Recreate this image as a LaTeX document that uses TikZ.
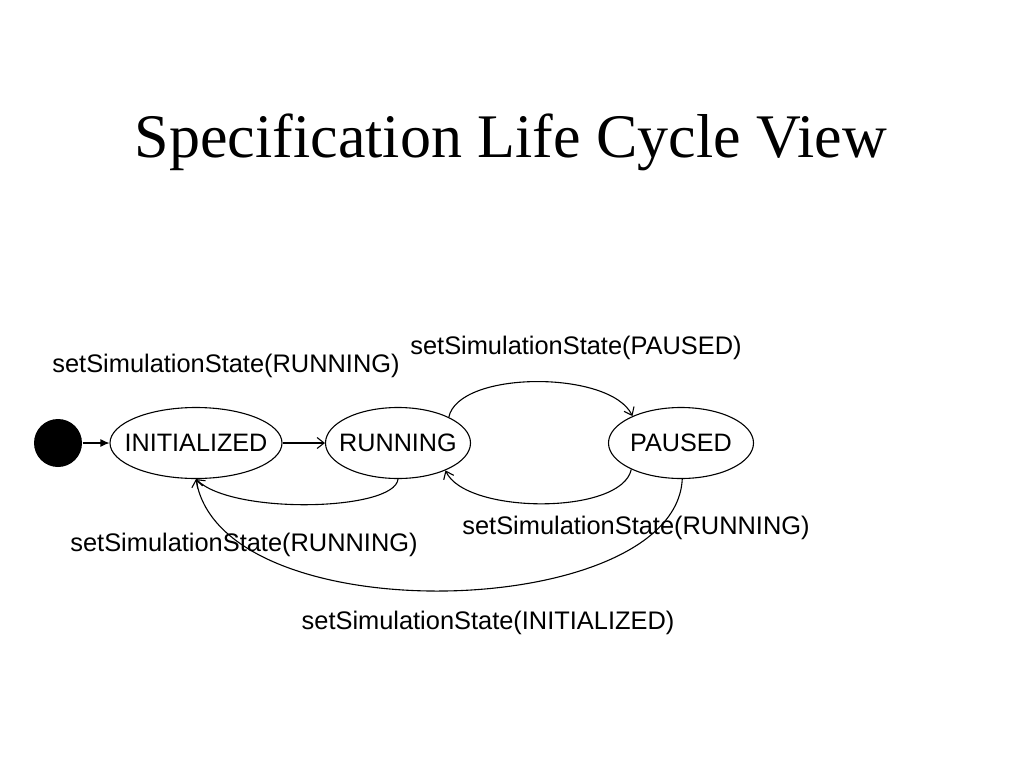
\documentclass[tikz,border=0pt]{standalone}
\usepackage{fontspec}
\setmainfont{Liberation Serif}
\setsansfont{Liberation Sans}
\usetikzlibrary{positioning}
\usetikzlibrary{shapes,arrows,arrows.meta}
\newcommand{\setState}[1]{setSimulationState(#1)}

\begin{document}
\begin{tikzpicture}[x=1pt,y=-1pt,on grid,line width=1.1pt,
    >={Straight Barb[length=7pt,width=11pt]},
    lcstate/.style={ellipse,draw,inner xsep=-14pt,inner ysep=0pt,minimum width=145pt,minimum height=71pt,font=\sffamily\fontsize{25.2}{28}\selectfont},
    lclabel/.style={anchor=base,font=\sffamily\fontsize{25.4}{28}\selectfont}]
  \useasboundingbox (0,0) rectangle (1024,768);
  \node[anchor=base,font=\fontsize{62}{70}\selectfont] (title) at (511,157) {Specification Life Cycle View};
  \node[circle,fill=black,minimum size=48pt,inner sep=0pt] (start) at (58,443) {};
  \node[lcstate,minimum width=172pt] (ini) at (196,443) {INITIALIZED};
  \node[lcstate] (run) [right=202pt of ini] {RUNNING};
  \node[lcstate] (pau) [right=283pt of run] {PAUSED};
  \draw[-{Latex[length=9pt,width=8pt]}] (start) -- (ini);
  \draw[->] (ini) -- (run);
  \draw[->] (run.27) .. controls +(10,-47) and +(-22,-46) .. (pau.151);
  \draw[->] (pau.208) .. controls +(-10,46) and +(20,44) .. (run.-30);
  \draw[->] (run.270) .. controls +(-3,32) and +(36,36) .. (ini.270);
  \draw[->] (pau.272) .. controls +(-7,142) and +(26,156) .. (ini.270);
  % transition labels
  \node[lclabel] (l_ini_run) at (226,372) {\setState{RUNNING}};
  \node[lclabel] (l_run_pau) at (576,354) {\setState{PAUSED}};
  \node[lclabel] (l_run_ini) at (244,551) {\setState{RUNNING}};
  \node[lclabel] (l_pau_run) at (636,534) {\setState{RUNNING}};
  \node[lclabel] (l_pau_ini) at (488,629) {\setState{INITIALIZED}};
\end{tikzpicture}
\end{document}
